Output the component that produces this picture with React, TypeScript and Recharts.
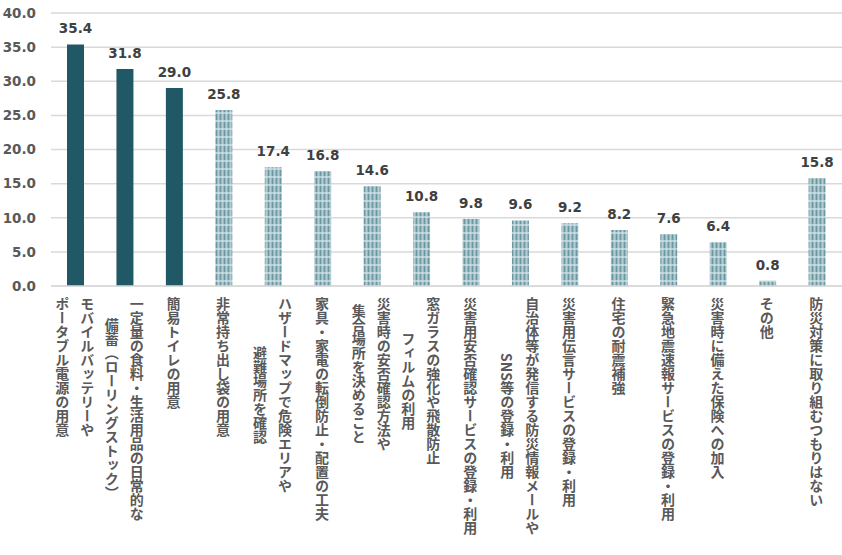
import React from 'react'
import { BarChart, Bar, XAxis, YAxis, CartesianGrid, Cell, LabelList } from 'recharts'

// 防災対策の実施状況（%）— 縦書きのカテゴリ名、上位3件は濃色
const categories = [
  'モバイルバッテリーや\nポータブル電源の用意',
  '一定量の食料・生活用品の日常的な\n備蓄（ローリングストック）',
  '簡易トイレの用意',
  '非常持ち出し袋の用意',
  'ハザードマップで危険エリアや\n避難場所を確認',
  '家具・家電の転倒防止・配置の工夫',
  '災害時の安否確認方法や\n集合場所を決めること',
  '窓ガラスの強化や飛散防止\nフィルムの利用',
  '災害用安否確認サービスの登録・利用',
  '自治体等が発信する防災情報メールや\nSNS等の登録・利用',
  '災害用伝言サービスの登録・利用',
  '住宅の耐震補強',
  '緊急地震速報サービスの登録・利用',
  '災害時に備えた保険への加入',
  'その他',
  '防災対策に取り組むつもりはない',
]
const values = [35.4, 31.8, 29.0, 25.8, 17.4, 16.8, 14.6, 10.8, 9.8, 9.6, 9.2, 8.2, 7.6, 6.4, 0.8, 15.8]
const yTicks = [0, 5, 10, 15, 20, 25, 30, 35, 40]
const highlightCount = 3

const data = categories.map((name, i) => ({ name, value: values[i] }))

const DARK = '#215865'
const LABEL_GRAY = '#595959'
const NUM_FONT = '"DejaVu Sans", Verdana, sans-serif'
const JP_FONT = '"Noto Sans CJK JP", "Noto Sans", sans-serif'

const STEP = 14
const LINE_GAP = 25

function VerticalTick({ x, y, payload }: any) {
  const lines: string[] = String(payload.value).split('\n')
  const maxLen = Math.max(...lines.map((l) => l.length))
  const mid = y + 3 + (maxLen * STEP) / 2
  return (
    <g>
      {lines.map((line, i) => (
        <text
          key={i}
          x={x - 1 - (i - (lines.length - 1) / 2) * LINE_GAP}
          y={mid}
          textAnchor="middle"
          fill={LABEL_GRAY}
          style={{ writingMode: 'vertical-rl', fontFamily: JP_FONT, fontWeight: 700, fontSize: STEP }}
        >
          {line}
        </text>
      ))}
    </g>
  )
}

export default function App() {
  return (
    <div style={{ position: 'absolute', left: 0, top: 0, background: '#fff' }}>
      <BarChart width={842} height={555} data={data} margin={{ top: 13, right: 0, bottom: 0, left: 0 }}>
        <defs>
          <pattern id="plaid" width="4" height="8" patternUnits="userSpaceOnUse">
            <rect width="4" height="8" fill="#94b8bf" />
            <rect x="0" y="0" width="1" height="8" fill="#6a97a1" />
            <rect x="2" y="0" width="1" height="8" fill="#b3cdd2" />
            <rect x="0" y="0" width="4" height="2" fill="#d3e3e6" opacity="0.7" />
          </pattern>
        </defs>
        <CartesianGrid vertical={false} stroke="#d9d9d9" strokeWidth={1.5} />
        <XAxis
          dataKey="name"
          interval={0}
          height={269}
          axisLine={{ stroke: '#d9d9d9', strokeWidth: 1.5 }}
          tickLine={false}
          tick={<VerticalTick />}
        />
        <YAxis
          width={51}
          domain={[0, 40]}
          ticks={yTicks}
          axisLine={false}
          tickLine={false}
          tickSize={0}
          tickMargin={15}
          tickFormatter={(v: number) => v.toFixed(1)}
          tick={{ fill: LABEL_GRAY, fontFamily: NUM_FONT, fontWeight: 700, fontSize: 13.5 }}
        />
        <Bar dataKey="value" barSize={17} isAnimationActive={false}>
          {data.map((_, i) => (
            <Cell key={i} fill={i < highlightCount ? DARK : 'url(#plaid)'} />
          ))}
          <LabelList
            dataKey="value"
            position="top"
            offset={11}
            formatter={(v: number) => v.toFixed(1)}
            style={{ fill: '#404040', fontFamily: NUM_FONT, fontWeight: 700, fontSize: 13.5 }}
          />
        </Bar>
      </BarChart>
    </div>
  )
}
